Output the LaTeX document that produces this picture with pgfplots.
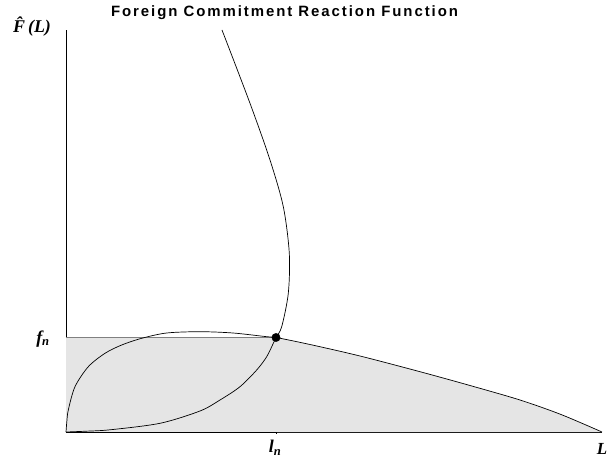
\documentclass[border=0pt]{standalone}
\usepackage{fontspec}
\setmainfont{Liberation Serif}
\newfontfamily\titlefont[LetterSpace=13]{Liberation Sans}
\usepackage{pgfplots}
\pgfplotsset{compat=1.18}
\definecolor{shade}{HTML}{E5E5E5}
\begin{document}
\begin{tikzpicture}[x=1bp,y=1bp]
\useasboundingbox (-66bp,-33bp) rectangle (547bp,432bp);
\begin{axis}[
  anchor=origin, at={(0,0)},
  scale only axis, width=536bp, height=402bp,
  xmin=0, xmax=536, ymin=0, ymax=402,
  axis lines=left, axis line style={-, line width=0.8pt},
  xtick=\empty, ytick=\empty,
  clip=false,
]
% shaded region
\addplot[fill=shade, draw=none] coordinates {(0,0)(0,94.5)(210,94.5)(210,0)} -- cycle;
\addplot[fill=shade, draw=none, smooth] coordinates {(210,94.5)(244,87.5)(294,76)(354,60.3)(404,46.5)(454,32)(495,17.5)(536,0)} \closedcycle;
% f_n line
\addplot[gray, line width=0.8pt] coordinates {(0,94.5)(210,94.5)};
% curve A
\addplot[black, line width=0.7pt, smooth] coordinates {(0,0)(0.8,10)(2.3,22)(9,45.3)(22.3,65.3)(39,78.7)(55.7,87)(75.7,93.7)(100.7,99)(134,100.3)(167,99)(200.7,95.3)(210,94.5)(244,87.5)(294,76)(354,60.3)(404,46.5)(454,32)(495,17.5)(536,0)};
% curve B
\addplot[black, line width=0.7pt, smooth] coordinates {(0,0)(20,0.8)(44,2.2)(94,8.7)(134,21)(154,32)(174,45.3)(190.7,62)(200.7,75.3)(207.3,88.7)(210,94.5)(215.7,105.3)(222.3,138.7)(223.3,178.7)(217.3,225.3)(204,272)(184,328.7)(156,402)};
% equilibrium point
\addplot[only marks, mark=*, mark size=4.2pt, black] coordinates {(210,94.5)};
% tick at l_n
\draw[line width=0.5pt] (axis cs:210,0) -- ++(0,-2bp);
% labels
\node at (axis cs:-23,93) {\fontsize{18}{20}\selectfont\bfseries\itshape f\textsubscript{n}};
\node at (axis cs:209,-16) {\fontsize{18}{20}\selectfont\bfseries\itshape l\textsubscript{n}};
\node at (axis cs:536,-17) {\fontsize{17}{19}\selectfont\bfseries\itshape L};
\node at (axis cs:-34,405) {\fontsize{18}{20}\selectfont\bfseries\itshape \^{F}\hspace{3bp}(L)};
\node at (axis cs:218.5,419) {\titlefont\fontsize{15}{17}\selectfont\bfseries Foreign Commitment Reaction Function};
\end{axis}
\end{tikzpicture}
\end{document}
